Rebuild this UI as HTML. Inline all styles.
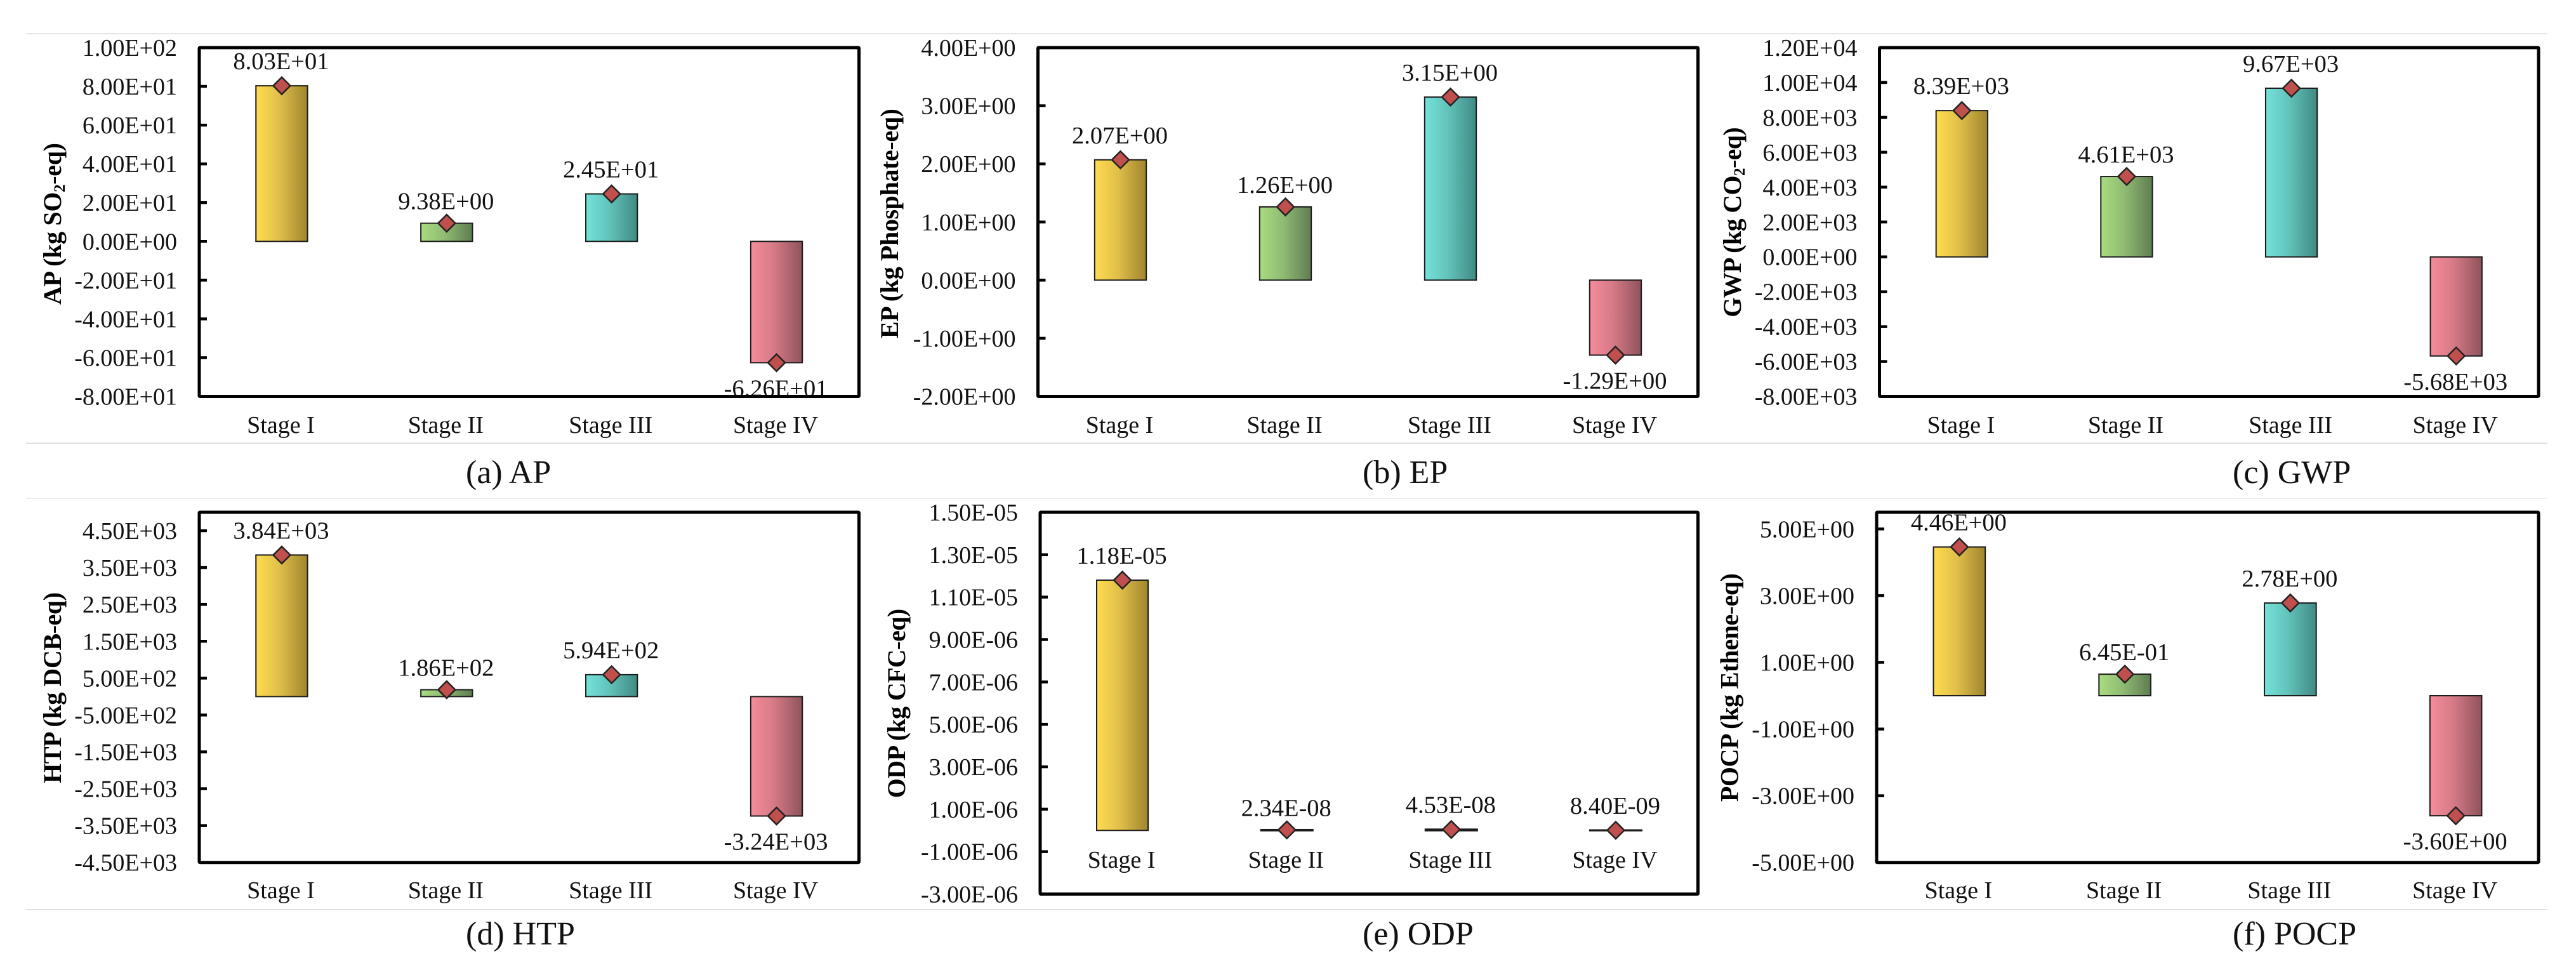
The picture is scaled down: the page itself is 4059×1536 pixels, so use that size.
<!DOCTYPE html>
<html lang="en">
<head>
<meta charset="utf-8">
<title>Life cycle impact by stage</title>
<style>
  html, body { margin: 0; padding: 0; background: #ffffff; }
  #figure { display: block; width: 4059px; height: 1536px; background: #ffffff; }
  text { font-family: "Liberation Serif", "Times New Roman", serif; fill: #111111; }
  .tick-label { font-size: 38px; text-anchor: end; }
  .value-label { font-size: 38.5px; text-anchor: middle; }
  .stage-label { font-size: 38px; text-anchor: middle; }
  .axis-title { font-size: 40px; font-weight: bold; text-anchor: middle; fill: #000000; }
  .caption { font-size: 52px; }
</style>
</head>
<body>
<svg id="figure" xmlns="http://www.w3.org/2000/svg" width="4059" height="1536" viewBox="0 0 4059 1536">
  <defs>
    <linearGradient id="grad-0" x1="0" x2="1" y1="0" y2="0"><stop offset="0" stop-color="#ffdc50"/><stop offset="0.45" stop-color="#e0bf4a"/><stop offset="1" stop-color="#9f852e"/></linearGradient>
    <linearGradient id="grad-1" x1="0" x2="1" y1="0" y2="0"><stop offset="0" stop-color="#a9dc7f"/><stop offset="0.45" stop-color="#90bb74"/><stop offset="1" stop-color="#5f7d50"/></linearGradient>
    <linearGradient id="grad-2" x1="0" x2="1" y1="0" y2="0"><stop offset="0" stop-color="#74e2da"/><stop offset="0.45" stop-color="#62c3bb"/><stop offset="1" stop-color="#408a84"/></linearGradient>
    <linearGradient id="grad-3" x1="0" x2="1" y1="0" y2="0"><stop offset="0" stop-color="#f68c9b"/><stop offset="0.45" stop-color="#d67a87"/><stop offset="1" stop-color="#8e535c"/></linearGradient>
  </defs>

  <rect x="41" y="52.5" width="3973" height="1.5" fill="#d9d9d9"/>
  <rect x="41" y="697.5" width="3973" height="1.5" fill="#d9d9d9"/>
  <rect x="41" y="784.5" width="3973" height="1.5" fill="#ececec"/>
  <rect x="41" y="1432" width="3973" height="1.5" fill="#d9d9d9"/>

  <text class="caption" x="734" y="761">(a) AP</text>
  <text class="caption" x="2147" y="761">(b) EP</text>
  <text class="caption" x="3518" y="761">(c) GWP</text>
  <text class="caption" x="734" y="1488">(d) HTP</text>
  <text class="caption" x="2147" y="1488">(e) ODP</text>
  <text class="caption" x="3518" y="1488">(f) POCP</text>

  <g id="panels"></g>
</svg>

<script>
const stages = ['Stage I', 'Stage II', 'Stage III', 'Stage IV'];

const apValues = [80.3, 9.38, 24.5, -62.6];
const epValues = [2.07, 1.26, 3.15, -1.29];
const gwpValues = [8390, 4610, 9670, -5680];
const htpValues = [3840, 186, 594, -3240];
const odpValues = [1.18e-5, 2.34e-8, 4.53e-8, 8.40e-9];
const pocpValues = [4.46, 0.645, 2.78, -3.60];

const apTicks = [100, 80, 60, 40, 20, 0, -20, -40, -60, -80];
const epTicks = [4, 3, 2, 1, 0, -1, -2];
const gwpTicks = [12000, 10000, 8000, 6000, 4000, 2000, 0, -2000, -4000, -6000, -8000];
const htpTicks = [4500, 3500, 2500, 1500, 500, -500, -1500, -2500, -3500, -4500];
const odpTicks = [1.5e-5, 1.3e-5, 1.1e-5, 9e-6, 7e-6, 5e-6, 3e-6, 1e-6, -1e-6, -3e-6];
const pocpTicks = [5, 3, 1, -1, -3, -5];

const apRange = [-80, 100];
const epRange = [-2, 4];
const gwpRange = [-8000, 12000];
const htpRange = [-4500, 5000];
const odpRange = [-3e-6, 1.5e-5];
const pocpRange = [-5, 5.5];

const SVG_NS = 'http://www.w3.org/2000/svg';
const root = document.getElementById('panels');

function make(tag, attrs, parent) {
  const node = document.createElementNS(SVG_NS, tag);
  for (const key in attrs) node.setAttribute(key, attrs[key]);
  parent.appendChild(node);
  return node;
}

function sci(v) {
  const parts = v.toExponential(2).split('e');
  const exp = parseInt(parts[1], 10);
  const sign = exp < 0 ? '-' : '+';
  const abs = Math.abs(exp);
  return parts[0] + 'E' + sign + (abs < 10 ? '0' + abs : abs);
}

function drawPanel(cfg) {
  const group = make('g', {}, root);
  
  

  const yScale = function (v) {
    return cfg.top + (cfg.range[1] - v) / (cfg.range[1] - cfg.range[0]) * (cfg.bottom - cfg.top);
  };
  const band = (cfg.right - cfg.left) / stages.length;
  const xScale = function (i) {
    return cfg.left + band * (i + 0.5);
  };
  const barWidth = band * 0.313;

  cfg.values.forEach(function (v, i) {
    const y0 = yScale(0);
    const y1 = yScale(v);
    const h = Math.abs(y1 - y0);
    const bar = make('rect', {
      x: xScale(i) - barWidth / 2,
      y: Math.min(y0, y1),
      width: barWidth,
      height: h,
      fill: 'url(#grad-' + i + ')',
      stroke: '#1c1c1c',
      'stroke-width': h < 3 ? 3 : 2
    }, group);
    
    
  });

  cfg.values.forEach(function (v, i) {
    const cx = xScale(i);
    const cy = yScale(v);
    const r = 13.5;
    const marker = make('polygon', {
      points: cx + ',' + (cy - r) + ' ' + (cx + r) + ',' + cy + ' ' + cx + ',' + (cy + r) + ' ' + (cx - r) + ',' + cy,
      fill: '#c0504d',
      stroke: '#222222',
      'stroke-width': 2.5
    }, group);
    
    

    const gap = v < 0 ? 40 : (i === 1 ? -35 : -39);
    const label = make('text', {
      class: 'value-label',
      x: cx - 1,
      y: cy + gap + 13
    }, group);
    label.textContent = sci(v);
    
    

    const stage = make('text', {
      class: 'stage-label',
      x: cx - 1.5,
      y: cfg.stageY
    }, group);
    stage.textContent = stages[i];
    
    
  });

  cfg.ticks.forEach(function (t, i) {
    const y = yScale(t);
    const tick = make('rect', {
      x: cfg.left,
      y: y - 2.25,
      width: 12,
      height: 4.5,
      fill: '#000000'
    }, group);
    
    

    const tickLabel = make('text', {
      class: 'tick-label',
      x: cfg.left - 35,
      y: y + 13
    }, group);
    tickLabel.textContent = sci(t);
    
    
  });

  const frame = make('rect', {
    x: cfg.left,
    y: cfg.top,
    width: cfg.right - cfg.left,
    height: cfg.bottom - cfg.top,
    fill: 'none',
    stroke: '#000000',
    'stroke-width': 5,
    rx: 1
  }, group);
  
  

  const title = make('text', {
    class: 'axis-title',
    x: cfg.titleX,
    y: cfg.titleY,
    transform: 'rotate(-90 ' + cfg.titleX + ' ' + cfg.titleY + ')',
    textLength: cfg.titleLength,
    lengthAdjust: 'spacing'
  }, group);
  
  
  title.appendChild(document.createTextNode(cfg.titleStart));
  if (cfg.titleSub) {
    const sub = make('tspan', { 'font-size': 25, dy: 6 }, title);
    sub.textContent = cfg.titleSub;
  }
  const dash = make('tspan', { 'font-weight': 'normal', dy: cfg.titleSub ? -6 : 0 }, title);
  dash.textContent = '-';
  title.appendChild(document.createTextNode(cfg.titleEnd));
}

drawPanel({ key: 'ap', values: apValues, ticks: apTicks, range: apRange, left: 314, top: 75, right: 1353.5, bottom: 624.5, stageY: 682, titleX: 96, titleY: 352.5, titleLength: 255, titleStart: 'AP (kg SO', titleSub: '2', titleEnd: 'eq)' });
drawPanel({ key: 'ep', values: epValues, ticks: epTicks, range: epRange, left: 1635.5, top: 75, right: 2675.5, bottom: 624.5, stageY: 682, titleX: 1415, titleY: 352, titleLength: 362, titleStart: 'EP (kg Phosphate', titleSub: '', titleEnd: 'eq)' });
drawPanel({ key: 'gwp', values: gwpValues, ticks: gwpTicks, range: gwpRange, left: 2961.5, top: 75, right: 4000, bottom: 624.5, stageY: 682, titleX: 2743, titleY: 350, titleLength: 299.5, titleStart: 'GWP (kg CO', titleSub: '2', titleEnd: 'eq)' });
drawPanel({ key: 'htp', values: htpValues, ticks: htpTicks, range: htpRange, left: 314, top: 807, right: 1353.5, bottom: 1358.7, stageY: 1415, titleX: 96, titleY: 1083.4, titleLength: 301, titleStart: 'HTP (kg DCB', titleSub: '', titleEnd: 'eq)' });
drawPanel({ key: 'odp', values: odpValues, ticks: odpTicks, range: odpRange, left: 1639, top: 807, right: 2675.5, bottom: 1408.5, stageY: 1367, titleX: 1426, titleY: 1108, titleLength: 298.5, titleStart: 'ODP (kg CFC', titleSub: '', titleEnd: 'eq)' });
drawPanel({ key: 'pocp', values: pocpValues, ticks: pocpTicks, range: pocpRange, left: 2957, top: 807, right: 4000, bottom: 1358.7, stageY: 1415, titleX: 2738.5, titleY: 1083, titleLength: 360, titleStart: 'POCP (kg Ethene', titleSub: '', titleEnd: 'eq)' });
</script>
</body>
</html>
